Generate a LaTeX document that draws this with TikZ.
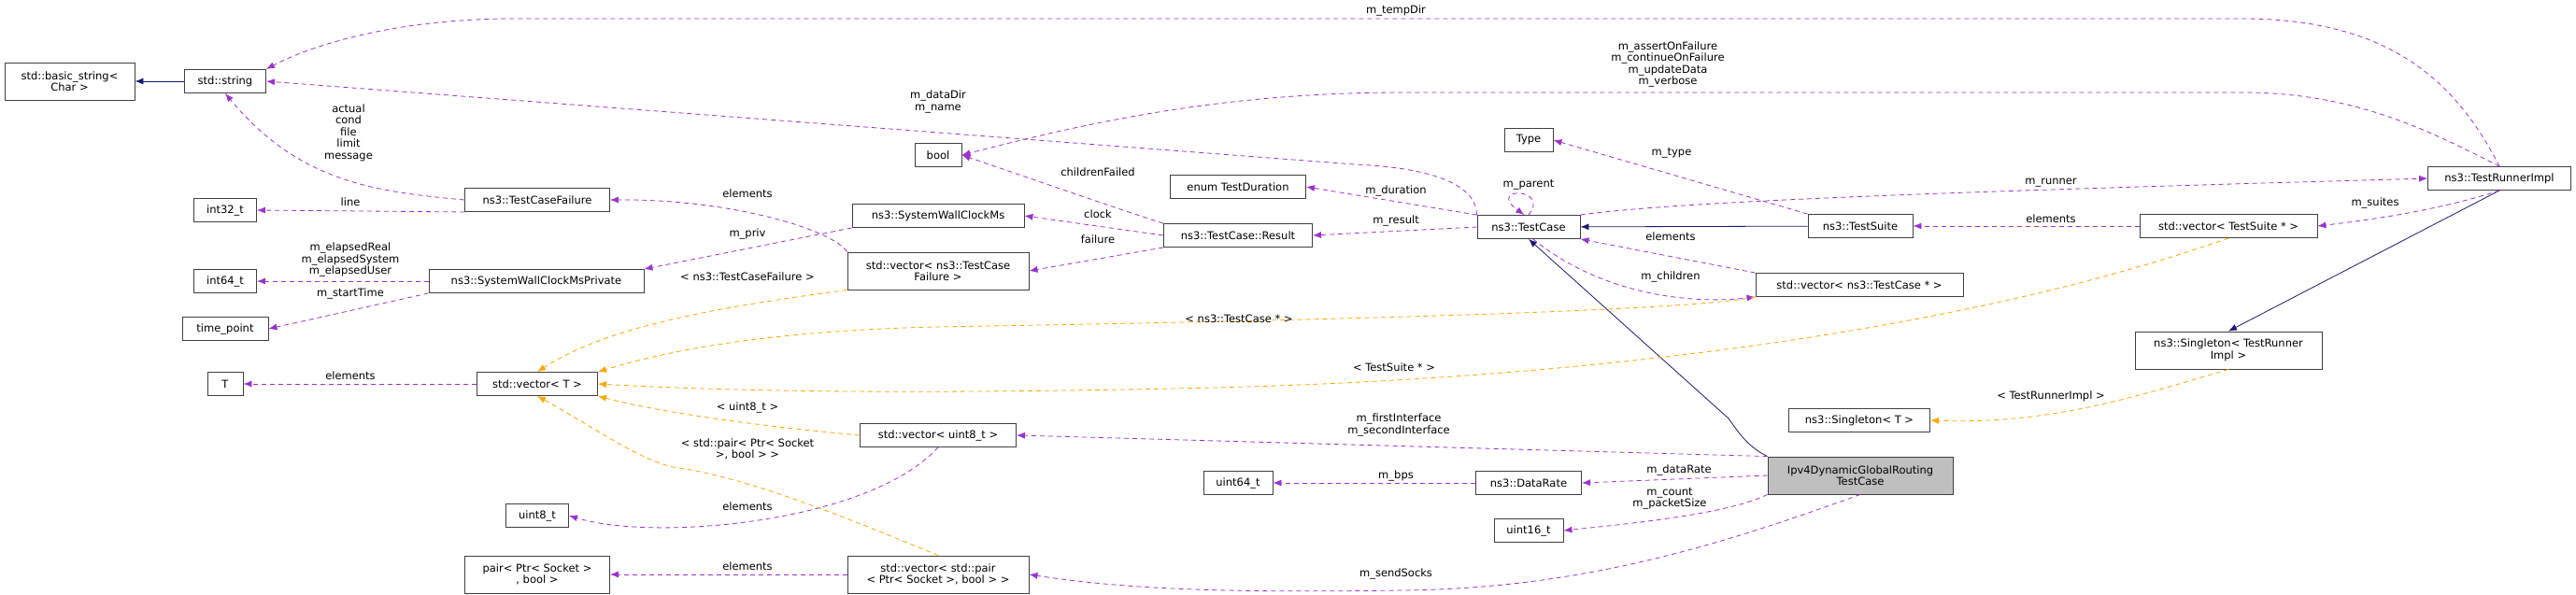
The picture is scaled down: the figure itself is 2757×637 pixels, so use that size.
\documentclass[tikz,border=0pt]{standalone}
\usepackage{fontspec}
\setmainfont{DejaVu Sans}
\usepackage{tikz}
\usetikzlibrary{arrows.meta}
\definecolor{usecol}{HTML}{9A32CD}
\definecolor{tplcol}{HTML}{FFA500}
\definecolor{inhcol}{HTML}{191970}
\tikzset{>={Latex[length=9pt,width=7pt]}}

\begin{document}
\begin{tikzpicture}[x=1pt,y=-1pt,
    font=\fontsize{11.5}{12.5}\selectfont,
    box/.style={draw=black!75, line width=0.9pt, fill=white, minimum height=25pt, inner sep=2pt, align=center},
    box2/.style={box, minimum height=40pt},
    lbl/.style={inner sep=0pt, align=center},
    use/.style={->, usecol, dashed, dash pattern=on 5pt off 4pt, line width=0.8pt},
    tpl/.style={->, tplcol, dashed, dash pattern=on 5pt off 4pt, line width=0.8pt},
    inh/.style={->, inhcol, line width=0.8pt}]
  \useasboundingbox (0,0) rectangle (2757,637);

  % nodes
  \node[box2, minimum width=139pt] (basicstr) at (74.5,87) {std::basic\_string\textless\\Char \textgreater};
  \node[box, minimum width=87pt] (str) at (241,87) {std::string};
  \node[box, minimum width=67pt] (int32) at (241,225) {int32\_t};
  \node[box, minimum width=67pt] (int64) at (241,301) {int64\_t};
  \node[box, minimum width=92pt] (tpoint) at (241,352) {time\_point};
  \node[box, minimum width=38pt] (T) at (241,411) {T};
  \node[box, minimum width=155pt] (failure) at (575,214) {ns3::TestCaseFailure};
  \node[box, minimum width=230pt] (clockpriv) at (574,301) {ns3::SystemWallClockMsPrivate};
  \node[box, minimum width=129pt] (vecT) at (575,411) {std::vector\textless{} T \textgreater};
  \node[box, minimum width=67pt] (uint8) at (575,552) {uint8\_t};
  \node[box2, minimum width=155pt] (pair) at (575,615) {pair\textless{} Ptr\textless{} Socket \textgreater\\, bool \textgreater};
  \node[box, minimum width=50pt] (bool) at (1004,166) {bool};
  \node[box, minimum width=184pt] (clock) at (1004,231) {ns3::SystemWallClockMs};
  \node[box2, minimum width=194pt] (vecfail) at (1004,290) {std::vector\textless{} ns3::TestCase\\Failure \textgreater};
  \node[box, minimum width=167pt] (vecu8) at (1004,466) {std::vector\textless{} uint8\_t \textgreater};
  \node[box2, minimum width=194pt] (vecpair) at (1004,615) {std::vector\textless{} std::pair\\\textless{} Ptr\textless{} Socket \textgreater, bool \textgreater{} \textgreater};
  \node[box, minimum width=145pt] (duration) at (1325,200) {enum TestDuration};
  \node[box, minimum width=159pt] (result) at (1325,252) {ns3::TestCase::Result};
  \node[box, minimum width=74pt] (uint64) at (1325,517) {uint64\_t};
  \node[box, minimum width=52pt] (type) at (1636,150) {Type};
  \node[box, minimum width=110pt] (case) at (1636,243) {ns3::TestCase};
  \node[box, minimum width=113pt] (datarate) at (1636,517) {ns3::DataRate};
  \node[box, minimum width=74pt] (uint16) at (1636,568) {uint16\_t};
  \node[box, minimum width=112pt] (suite) at (1991,242) {ns3::TestSuite};
  \node[box, minimum width=222pt] (veccase) at (1990,305) {std::vector\textless{} ns3::TestCase * \textgreater};
  \node[box, minimum width=151pt] (singT) at (1990,450) {ns3::Singleton\textless{} T \textgreater};
  \node[box2, minimum width=198pt, fill=black!25] (ipv4) at (1991,509) {Ipv4DynamicGlobalRouting\\TestCase};
  \node[box, minimum width=190pt] (vecsuite) at (2385,242) {std::vector\textless{} TestSuite * \textgreater};
  \node[box2, minimum width=200pt] (singrun) at (2385,375) {ns3::Singleton\textless{} TestRunner\\Impl \textgreater};
  \node[box, minimum width=153pt] (runner) at (2675,191) {ns3::TestRunnerImpl};

  % inheritance
  \draw[inh] (str) -- (basicstr);
  \draw[inh] (suite) -- (case);
  \draw[inh] (runner.south) -- (singrun.north);
  \draw[inh] (ipv4.north west) .. controls (1870,478) and (1860,462) .. (1850,448) -- (case.south);

  % members
  \draw[use] (runner.north) .. controls (2630,90) and (2560,20) .. (2400,20) -- (550,20) .. controls (420,20) and (330,50) .. (str.north east);
  \draw[use] (runner.north) .. controls (2600,140) and (2520,99) .. (2400,99) -- (1500,99) .. controls (1300,99) and (1150,135) .. (bool.east);
  \draw[use] (case.north west) .. controls (1580,200) and (1540,180) .. (1450,176) -- (str.east);
  \draw[use] (failure.west) .. controls (400,205) and (320,195) .. (str.south);
  \draw[use] (failure.south west) -- (int32.east);
  \draw[use] (vecfail.north west) .. controls (890,245) and (780,213) .. (failure.east);
  \draw[use] (clock.south west) -- (clockpriv.north east);
  \draw[use] (clockpriv.west) -- (int64.east);
  \draw[use] (clockpriv.south west) -- (tpoint.east);
  \draw[use] (vecT.west) -- (T.east);
  \draw[use] (vecu8.south) .. controls (930,560) and (700,580) .. (uint8.east);
  \draw[use] (vecpair.west) -- (pair.east);
  \draw[use] (result.north west) .. controls (1200,225) and (1100,190) .. (bool.east);
  \draw[use] (result.west) -- (clock.east);
  \draw[use] (result.south west) -- (vecfail.east);
  \draw[use] (case.north west) -- (duration.east);
  \draw[use] (case.west) -- (result.east);
  \draw[use] (case.north) .. controls (1660,200) and (1590,200) .. (case.110);
  \draw[use] (suite.north west) -- (type.east);
  \draw[use] (veccase.north west) -- (case.south east);
  \draw[use] (case.-70) .. controls (1720,320) and (1820,325) .. (veccase.south west);
  \draw[use] (case.north east) .. controls (1800,215) and (2100,205) .. (runner.west);
  \draw[use] (vecsuite.west) -- (suite.east);
  \draw[use] (runner.south) .. controls (2610,225) and (2540,235) .. (vecsuite.east);
  \draw[use] (ipv4.north west) -- (vecu8.east);
  \draw[use] (ipv4.west) -- (datarate.east);
  \draw[use] (datarate.west) -- (uint64.east);
  \draw[use] (ipv4.south west) .. controls (1850,550) and (1750,560) .. (uint16.east);
  \draw[use] (ipv4.south) .. controls (1850,580) and (1700,630) .. (1500,632) .. controls (1300,635) and (1200,630) .. (vecpair.east);

  % templates
  \draw[tpl] (vecfail.south west) .. controls (760,330) and (650,350) .. (vecT.north);
  \draw[tpl] (veccase.south west) .. controls (1800,335) and (1300,345) .. (1000,350) .. controls (800,355) and (700,380) .. (vecT.north east);
  \draw[tpl] (vecsuite.south) .. controls (2100,355) and (1700,405) .. (1300,415) .. controls (1000,422) and (800,420) .. (vecT.east);
  \draw[tpl] (vecu8.west) .. controls (800,455) and (700,440) .. (vecT.south east);
  \draw[tpl] (vecpair.north) .. controls (920,560) and (800,510) .. (720,500) .. controls (680,490) and (640,460) .. (vecT.south);
  \draw[tpl] (singrun.south) .. controls (2300,420) and (2200,455) .. (singT.east);

  % labels
  \node[lbl] at (1494,11) {m\_tempDir};
  \node[lbl] at (1785,69) {m\_assertOnFailure\\m\_continueOnFailure\\m\_updateData\\m\_verbose};
  \node[lbl] at (1004,109) {m\_dataDir\\m\_name};
  \node[lbl] at (373,142) {actual\\cond\\file\\limit\\message};
  \node[lbl] at (375,216) {line};
  \node[lbl] at (800,207) {elements};
  \node[lbl] at (800,250) {m\_priv};
  \node[lbl] at (375,278) {m\_elapsedReal\\m\_elapsedSystem\\m\_elapsedUser};
  \node[lbl] at (375,314) {m\_startTime};
  \node[lbl] at (375,402) {elements};
  \node[lbl] at (800,296) {\textless{} ns3::TestCaseFailure \textgreater};
  \node[lbl] at (1326,341) {\textless{} ns3::TestCase * \textgreater};
  \node[lbl] at (1492,393) {\textless{} TestSuite * \textgreater};
  \node[lbl] at (800,436) {\textless{} uint8\_t \textgreater};
  \node[lbl] at (800,481) {\textless{} std::pair\textless{} Ptr\textless{} Socket\\\textgreater, bool \textgreater{} \textgreater};
  \node[lbl] at (800,542) {elements};
  \node[lbl] at (800,606) {elements};
  \node[lbl] at (1175,184) {childrenFailed};
  \node[lbl] at (1175,229) {clock};
  \node[lbl] at (1175,256) {failure};
  \node[lbl] at (1494,204) {m\_duration};
  \node[lbl] at (1494,236) {m\_result};
  \node[lbl] at (1636,198) {m\_parent};
  \node[lbl] at (1789,164) {m\_type};
  \node[lbl] at (1788,253) {elements};
  \node[lbl] at (1788,296) {m\_children};
  \node[lbl] at (2195,196) {m\_runner};
  \node[lbl] at (2195,234) {elements};
  \node[lbl] at (2542,217) {m\_suites};
  \node[lbl] at (2195,424) {\textless{} TestRunnerImpl \textgreater};
  \node[lbl] at (1497,455) {m\_firstInterface\\m\_secondInterface};
  \node[lbl] at (1797,503) {m\_dataRate};
  \node[lbl] at (1494,509) {m\_bps};
  \node[lbl] at (1787,534) {m\_count\\m\_packetSize};
  \node[lbl] at (1494,614) {m\_sendSocks};
\end{tikzpicture}
\end{document}
